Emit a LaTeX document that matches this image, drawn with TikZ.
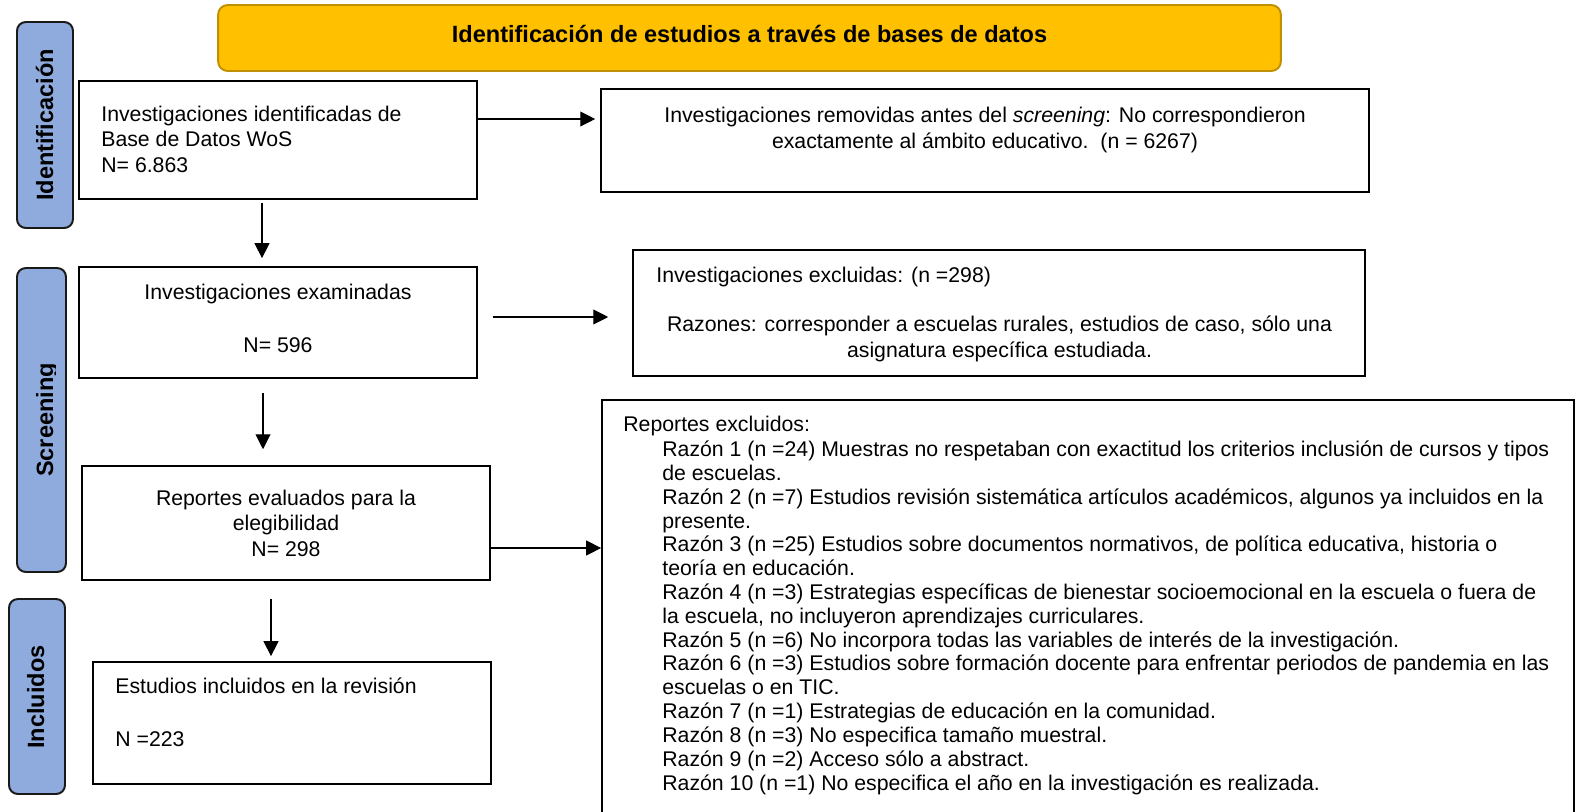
\documentclass[tikz,border=0pt]{standalone}
\usepackage{fontspec}
\setmainfont{Liberation Sans}
\usetikzlibrary{arrows.meta, positioning}

\definecolor{amarillo}{HTML}{FFC000}
\definecolor{oro}{HTML}{BF9000}
\definecolor{azulfase}{HTML}{8FAADC}

\tikzset{
  caja/.style={draw, line width=1.1pt, rectangle, inner sep=0pt},
  fase/.style={draw=black!90, line width=1.1pt, fill=azulfase, rounded corners=5pt, inner sep=0pt},
  etiqueta/.style={rotate=90, anchor=base, inner sep=0pt, font=\fontsize{13.4pt}{16pt}\selectfont\bfseries},
  cuerpo/.style={inner sep=0pt, font=\fontsize{12.1pt}{14.5pt}\selectfont},
  flecha/.style={-{Triangle[length=8.5pt,width=8.5pt]}, line width=0.6pt},
}

\begin{document}
\begin{tikzpicture}[x=0.02cm, y=-0.02cm]
  \useasboundingbox (0,0) rectangle (1577,811);

  % titulo
  \node[draw=oro, line width=1.1pt, fill=amarillo, rounded corners=5.5pt,
        minimum width=21.26cm, minimum height=1.32cm] (titulo) at (749.5,38) {};
  \node[anchor=base, inner sep=0pt, font=\fontsize{13.4pt}{16pt}\selectfont\bfseries]
        (titulotxt) at (749.5,43) {Identificación de estudios a través de bases de datos};

  % fases
  \node[fase, minimum width=1.12cm, minimum height=4.12cm] (fident) at (45,125) {};
  \node[etiqueta] (fidenttxt) at (53,125) {Identificación};
  \node[fase, minimum width=0.98cm, minimum height=6.08cm] (fscreen) at (41.5,420) {};
  \begin{scope}
    \clip (0,268) rectangle (55.5,572);
    \node[etiqueta] (fscreentxt) at (53,420) {Screening};
  \end{scope}
  \node[fase, minimum width=1.12cm, minimum height=3.9cm] (fincl) at (37,696.5) {};
  \node[etiqueta] (fincltxt) at (44,697) {Incluidos};

  % cajas
  \node[caja, minimum width=7.96cm, minimum height=2.36cm] (ident) at (278,140) {};
  \node[caja, minimum width=15.36cm, minimum height=2.06cm] (rem) at (985,140.5) {};
  \node[caja, minimum width=7.96cm, minimum height=2.22cm] (exam) at (278,322.5) {};
  \node[caja, minimum width=14.64cm, minimum height=2.52cm] (exc) at (999,313) {};
  \node[caja, minimum width=8.16cm, minimum height=2.28cm] (eval) at (286,523) {};
  \node[caja, minimum width=19.44cm, minimum height=8.26cm] (repexc) at (1088,606.5) {};
  \node[caja, minimum width=7.96cm, minimum height=2.44cm] (incl) at (292,723) {};

  % textos (base = ultima linea)
  \node[cuerpo, anchor=base west, align=left] (identtxt) at (101,172)
    {Investigaciones identificadas de\\Base de Datos WoS\\N= 6.863};
  \node[cuerpo, anchor=base, align=center] (remtxt) at (985,148)
    {Investigaciones removidas antes del \textit{screening}: No correspondieron\\exactamente al ámbito educativo.\ \ (n = 6267)};
  \node[cuerpo, anchor=base, align=center] (examtxt) at (278,352)
    {Investigaciones examinadas\\[15.5pt]N= 596};
  \node[cuerpo, anchor=base west] (exctxt) at (656,282) {Investigaciones excluidas: (n =298)};
  \node[cuerpo, anchor=base, align=center] (razones) at (999.5,357)
    {Razones: corresponder a escuelas rurales, estudios de caso, sólo una\\asignatura específica estudiada.};
  \node[cuerpo, anchor=base, align=center] (evaltxt) at (286,556)
    {Reportes evaluados para la\\elegibilidad\\N= 298};
  \node[cuerpo, anchor=base west, align=left] (incltxt) at (115,746)
    {Estudios incluidos en la revisión\\[15.5pt]N =223};
  \node[cuerpo, anchor=base west] (repexctxt) at (623,431) {Reportes excluidos:};
  \node[cuerpo, anchor=base west, align=left, font=\fontsize{12.1pt}{13.55pt}\selectfont]
    (razonlista) at (662,790)
    {Razón 1 (n =24) Muestras no respetaban con exactitud los criterios inclusión de cursos y tipos\\
     de escuelas.\\
     Razón 2 (n =7) Estudios revisión sistemática artículos académicos, algunos ya incluidos en la\\
     presente.\\
     Razón 3 (n =25) Estudios sobre documentos normativos, de política educativa, historia o\\
     teoría en educación.\\
     Razón 4 (n =3) Estrategias específicas de bienestar socioemocional en la escuela o fuera de\\
     la escuela, no incluyeron aprendizajes curriculares.\\
     Razón 5 (n =6) No incorpora todas las variables de interés de la investigación.\\
     Razón 6 (n =3) Estudios sobre formación docente para enfrentar periodos de pandemia en las\\
     escuelas o en TIC.\\
     Razón 7 (n =1) Estrategias de educación en la comunidad.\\
     Razón 8 (n =3) No especifica tamaño muestral.\\
     Razón 9 (n =2) Acceso sólo a abstract.\\
     Razón 10 (n =1) No especifica el año en la investigación es realizada.};

  % flechas
  \coordinate (a1) at ([yshift=0.42cm]ident.east);
  \draw[flecha, shorten >=2.8pt] (a1) -- (a1 -| rem.west);
  \coordinate (a2) at ([yshift=0.11cm]exam.east);
  \draw[flecha, shorten <=8.5pt, shorten >=13.6pt] (a2) -- (a2 -| exc.west);
  \coordinate (a3) at ([yshift=-0.5cm]eval.east);
  \draw[flecha] (a3) -- (a3 -| repexc.west);
  \coordinate (b1) at ([xshift=-0.32cm]ident.south);
  \draw[flecha, shorten <=1.7pt, shorten >=4.5pt] (b1) -- (b1 |- exam.north);
  \coordinate (b2) at ([xshift=-0.30cm]exam.south);
  \draw[flecha, shorten <=7.9pt, shorten >=9pt] (b2) -- (b2 |- eval.north);
  \coordinate (b3) at ([xshift=-0.30cm]eval.south);
  \draw[flecha, shorten <=10.2pt, shorten >=2.8pt] (b3) -- (b3 |- incl.north);
\end{tikzpicture}
\end{document}
